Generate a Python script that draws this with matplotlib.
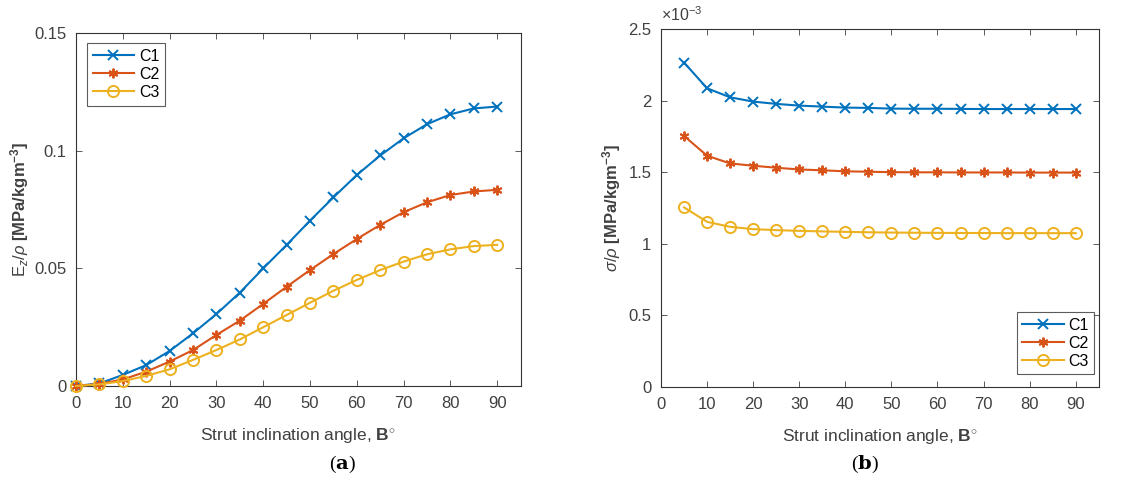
import matplotlib
matplotlib.use("Agg")
import matplotlib.pyplot as plt
from matplotlib.ticker import FuncFormatter

plt.rcParams['font.family'] = ['Liberation Sans', 'DejaVu Sans']
plt.rcParams['mathtext.fontset'] = 'custom'
plt.rcParams['mathtext.rm'] = 'Liberation Sans'
plt.rcParams['mathtext.it'] = 'Liberation Sans:italic'
plt.rcParams['mathtext.bf'] = 'Liberation Sans:bold'

# (a) specific stiffness E_z/rho vs strut angle
angle_a = [0, 5, 10, 15, 20, 25, 30, 35, 40, 45, 50, 55, 60, 65, 70, 75, 80, 85, 90]
ez_c1 = [0.0, 0.0011, 0.0047, 0.0089, 0.0149, 0.0224, 0.0306, 0.0397, 0.0500, 0.0600,
         0.0703, 0.0802, 0.0897, 0.0980, 0.1053, 0.1113, 0.1155, 0.1180, 0.1188]
ez_c2 = [0.0, 0.0009, 0.0028, 0.0061, 0.0104, 0.0153, 0.0217, 0.0278, 0.0349, 0.0422,
         0.0493, 0.0561, 0.0625, 0.0685, 0.0739, 0.0781, 0.0812, 0.0827, 0.0834]
ez_c3 = [0.0, 0.0007, 0.0021, 0.0043, 0.0071, 0.0111, 0.0153, 0.0198, 0.0250, 0.0302,
         0.0354, 0.0405, 0.0451, 0.0493, 0.0529, 0.0560, 0.0581, 0.0595, 0.0600]

# (b) specific strength sigma/rho vs strut angle
angle_b = [5, 10, 15, 20, 25, 30, 35, 40, 45, 50, 55, 60, 65, 70, 75, 80, 85, 90]
sig_c1 = [2.267e-3, 2.087e-3, 2.024e-3, 1.994e-3, 1.978e-3, 1.966e-3, 1.959e-3, 1.952e-3, 1.950e-3,
          1.945e-3, 1.944e-3, 1.944e-3, 1.943e-3, 1.942e-3, 1.942e-3, 1.942e-3, 1.942e-3, 1.942e-3]
sig_c2 = [1.754e-3, 1.616e-3, 1.562e-3, 1.546e-3, 1.532e-3, 1.520e-3, 1.514e-3, 1.507e-3, 1.504e-3,
          1.501e-3, 1.500e-3, 1.500e-3, 1.499e-3, 1.499e-3, 1.499e-3, 1.498e-3, 1.498e-3, 1.498e-3]
sig_c3 = [1.255e-3, 1.154e-3, 1.119e-3, 1.103e-3, 1.096e-3, 1.091e-3, 1.087e-3, 1.084e-3, 1.081e-3,
          1.079e-3, 1.078e-3, 1.077e-3, 1.076e-3, 1.076e-3, 1.075e-3, 1.075e-3, 1.075e-3, 1.075e-3]

series = ['C1', 'C2', 'C3']
colors = ['#0072BD', '#D95319', '#EDB120']
markers = ['x', (6, 2, 0), 'o']
text_col = '#404040'

fig = plt.figure(figsize=(11.43, 4.97), dpi=100)
ax1 = fig.add_axes([0.0665, 0.2233, 0.389, 0.710])
ax2 = fig.add_axes([0.5783, 0.2213, 0.383, 0.720])


def style_axes(ax):
    ax.set_xlim(0, 95)
    ax.set_xticks(range(0, 91, 10))
    ax.tick_params(direction='in', top=True, right=True, length=4, width=0.6,
                   labelsize=12, colors=text_col, labelcolor=text_col, pad=7)
    for s in ax.spines.values():
        s.set_color('#333333')
        s.set_linewidth(0.8)
    ax.set_xlabel(r'Strut inclination angle, $\mathbf{B}^{\circ}$', fontsize=12.5,
                  color=text_col, labelpad=11)


def draw(ax, x, ys):
    for y, lab, c, m in zip(ys, series, colors, markers):
        mfc = 'none' if m == 'o' else c
        ms = 8 if m == 'o' else 7
        ax.plot(x, y, color=c, lw=1.5, marker=m, ms=ms, mfc=mfc, mec=c, mew=1.4,
                label=lab, clip_on=False, zorder=3)


draw(ax1, angle_a, [ez_c1, ez_c2, ez_c3])
style_axes(ax1)
ax1.set_ylim(0, 0.15)
ax1.set_yticks([0, 0.05, 0.1, 0.15])
ax1.yaxis.set_major_formatter(FuncFormatter(lambda v, p: f'{v:g}'))
ax1.set_ylabel(r'E$_z$/$\rho$ $\mathbf{[MPa/kgm^{-3}]}$', fontsize=12, color=text_col, labelpad=2)
leg1 = ax1.legend(loc='upper left', bbox_to_anchor=(0.025, 0.972), fontsize=11.5,
                  fancybox=False, edgecolor='#333333', handlelength=2.6, borderpad=0.35,
                  labelspacing=0.2, handletextpad=0.3, borderaxespad=0)
leg1.get_frame().set_linewidth(0.8)

draw(ax2, angle_b, [sig_c1, sig_c2, sig_c3])
style_axes(ax2)
ax2.set_ylim(0, 2.5e-3)
ax2.set_yticks([0, 0.5e-3, 1e-3, 1.5e-3, 2e-3, 2.5e-3])
ax2.yaxis.set_major_formatter(FuncFormatter(lambda v, p: f'{v * 1e3:g}'))
ax2.text(0.0, 1.015, r'$\times$10$^{-3}$', transform=ax2.transAxes, fontsize=11.5,
         color=text_col, ha='left', va='bottom')
ax2.set_ylabel(r'$\sigma$/$\rho$ $\mathbf{[MPa/kgm^{-3}]}$', fontsize=12, color=text_col, labelpad=4)
leg2 = ax2.legend(loc='lower right', bbox_to_anchor=(0.99, 0.035), fontsize=11.5,
                  fancybox=False, edgecolor='#333333', handlelength=2.6, borderpad=0.35,
                  labelspacing=0.2, handletextpad=0.3, borderaxespad=0)
leg2.get_frame().set_linewidth(0.8)

for xc, letter in [(0.300, 'a'), (0.757, 'b')]:
    fig.text(xc, 0.065, r'($\mathbf{' + letter + r'}$)', fontsize=14, ha='center', va='center',
             family='Liberation Serif', math_fontfamily='dejavuserif')

fig.savefig('out.png', dpi=100)
